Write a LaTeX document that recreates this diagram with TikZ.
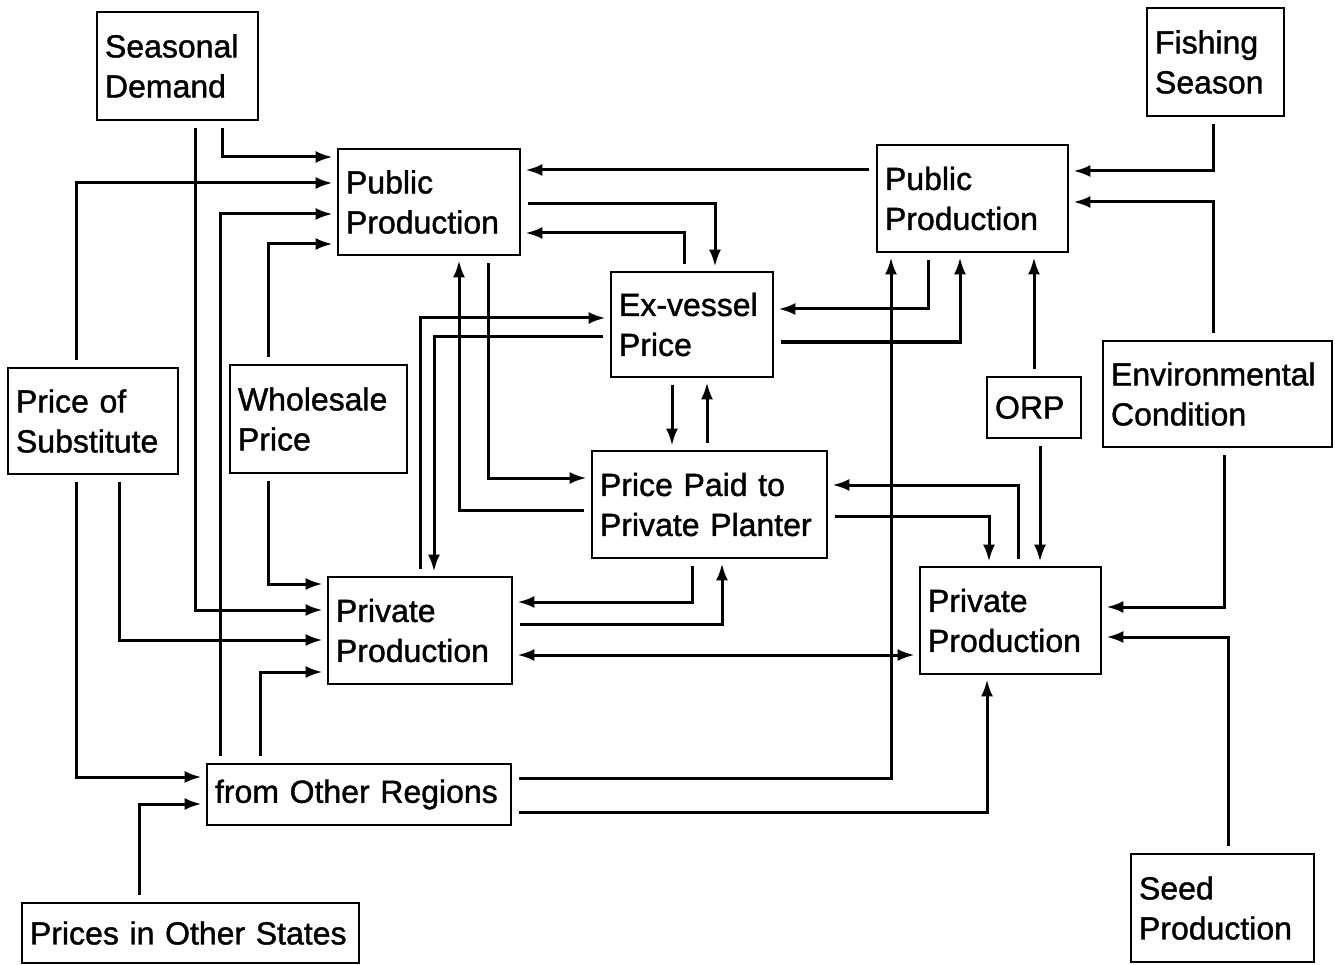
\documentclass[tikz,border=0pt]{standalone}
\usepackage{fontspec}
\newfontfamily\lab{Liberation Sans}[BoldFont={Liberation Sans},BoldFeatures={FakeBold=1.2}]
\usetikzlibrary{arrows.meta}
\tikzset{
  box/.style={draw, line width=2.8pt, inner xsep=8pt, inner ysep=0pt, align=left,
    font=\lab\bfseries\fontsize{32}{40}\selectfont},
  arr/.style={line width=3pt, -{Latex[length=17pt,width=12pt]}, shorten >=4pt, shorten <=7pt},
  darr/.style={line width=3pt, {Latex[length=17pt,width=12pt]}-{Latex[length=17pt,width=12pt]}, shorten >=4pt, shorten <=4pt}
}
\begin{document}
\begin{tikzpicture}[x=1pt,y=-1pt]
\useasboundingbox (0,0) rectangle (1335,965);
% nodes
\node[box, text width=145pt, minimum height=108pt] (sd) at (177.5,66) {Seasonal\\Demand};
\node[box, text width=166pt, minimum height=106pt] (ppl) at (429,202) {Public\\Production};
\node[box, text width=175pt, minimum height=107pt] (ppr) at (972.5,198.5) {Public\\Production};
\node[box, text width=121pt, minimum height=108pt] (fs) at (1215.5,62) {Fishing\\Season};
\node[box, text width=146pt, minimum height=105pt] (ev) at (692,324.5) {Ex-vessel\\Price};
\node[box, text width=154pt, minimum height=106pt] (pos) at (93,421) {Price of\\Substitute};
\node[box, text width=161pt, minimum height=108pt] (wp) at (318.5,419) {Wholesale\\Price};
\node[box, text width=78pt, minimum height=61pt] (orp) at (1034,407.5) {ORP};
\node[box, text width=213pt, minimum height=106pt] (env) at (1217.5,394) {Environmental\\Condition};
\node[box, text width=219pt, minimum height=107pt] (pp) at (709.5,504.5) {Price Paid to\\Private Planter};
\node[box, text width=168pt, minimum height=107pt] (prl) at (420,630.5) {Private\\Production};
\node[box, text width=165pt, minimum height=107pt] (prr) at (1010.5,620.5) {Private\\Production};
\node[box, text width=288pt, minimum height=61pt] (ofr) at (359,794.5) {from Other Regions};
\node[box, text width=321pt, minimum height=60pt] (pios) at (190.5,933) {Prices in Other States};
\node[box, text width=167pt, minimum height=108pt] (seed) at (1222.5,908) {Seed\\Production};
% connectors into left Public Production
\draw[arr] (sd.south -| 222,0) |- (ppl.west |- 0,157);
\draw[arr] (pos.north -| 76,0) |- (ppl.west |- 0,183);
\draw[arr] (ofr.north -| 220,0) |- (ppl.west |- 0,214);
\draw[arr] (wp.north -| 268,0) |- (ppl.west |- 0,244);
% connectors into left Private Production
\draw[arr] (wp.south -| 268,0) |- (prl.west |- 0,584);
\draw[arr] (sd.south -| 195,0) |- (prl.west |- 0,610);
\draw[arr] (pos.south -| 119,0) |- (prl.west |- 0,640);
\draw[arr] (ofr.north -| 260,0) |- (prl.west |- 0,672);
% into from Other Regions
\draw[arr] (pos.south -| 76,0) |- (ofr.west |- 0,777);
\draw[arr] (pios.north -| 139,0) |- (ofr.west |- 0,804);
% Public Production (left) and Ex-vessel Price
\draw[arr] (ppr.west |- 0,170) -- (ppl.east |- 0,170);
\draw[arr] (ppl.east |- 0,204) -| (ev.north -| 715,0);
\draw[arr] (ev.north -| 684,0) |- (ppl.east |- 0,233);
% Ex-vessel and right Public Production
\draw[arr] (ppr.south -| 928,0) |- (ev.east |- 0,309);
\draw[arr] (ev.east |- 0,342) -| (ppr.south -| 960,0);
\draw[arr] (ofr.east |- 0,778) -| (ppr.south -| 891,0);
\draw[arr] (orp.north) -- (ppr.south -| orp.north);
% Ex-vessel and Price Paid
\draw[arr] (ev.south -| 672,0) -- (pp.north -| 672,0);
\draw[arr] (pp.north -| 707,0) -- (ev.south -| 707,0);
% Ex-vessel and left Private Production
\draw[arr] (prl.north -| 420,0) |- (ev.west |- 0,318);
\draw[arr] (ev.west |- 0,337) -| (prl.north -| 434,0);
% Price Paid and left Public Production
\draw[arr] (pp.west |- 0,510) -| (ppl.south -| 459,0);
\draw[arr] (ppl.south -| 488,0) |- (pp.west |- 0,478);
% Price Paid and right Private Production
\draw[arr] (prr.north -| 1018,0) |- (pp.east |- 0,485);
\draw[arr] (pp.east |- 0,516) -| (prr.north -| 989,0);
\draw[arr] (orp.south -| 1040,0) -- (prr.north -| 1040,0);
% Price Paid and left Private Production
\draw[arr] (pp.south -| 692,0) |- (prl.east |- 0,602);
\draw[arr] (prl.east |- 0,624) -| (pp.south -| 722,0);
\draw[darr] (prl.east |- 0,655) -- (prr.west |- 0,655);
% into right Private Production
\draw[arr] (env.south -| 1224,0) |- (prr.east |- 0,607);
\draw[arr] (seed.north -| 1228,0) |- (prr.east |- 0,637);
\draw[arr] (ofr.east |- 0,812) -| (prr.south -| 987,0);
% into right Public Production
\draw[arr] (fs.south -| 1213,0) |- (ppr.east |- 0,171);
\draw[arr] (env.north -| 1213,0) |- (ppr.east |- 0,202);
\end{tikzpicture}
\end{document}
